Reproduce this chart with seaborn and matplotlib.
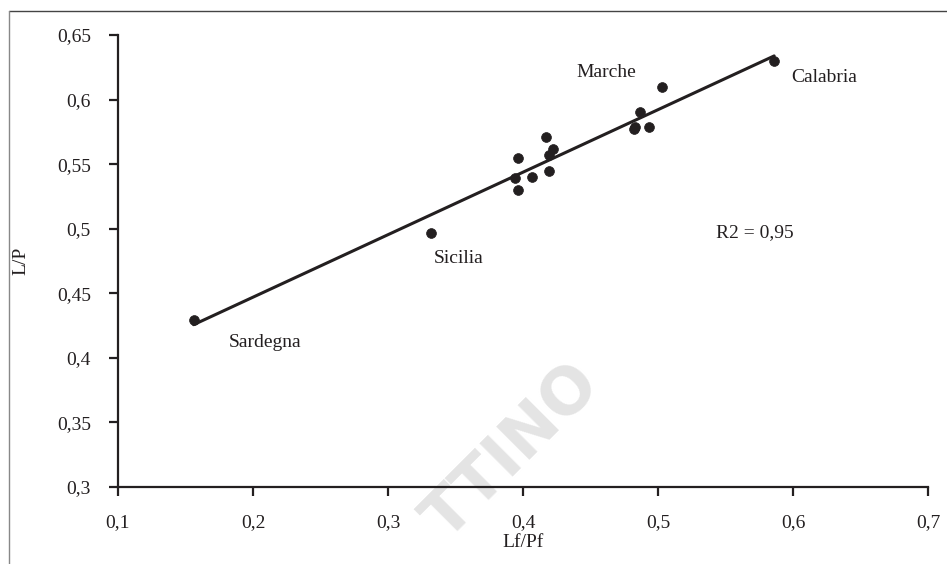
import matplotlib
matplotlib.use("Agg")
import matplotlib.pyplot as plt
from matplotlib.lines import Line2D
import seaborn as sns
import pandas as pd
import numpy as np

# ---- data ----
lf_pf = [0.156, 0.332, 0.394, 0.396, 0.396, 0.407, 0.417, 0.419, 0.419, 0.422,
         0.482, 0.483, 0.487, 0.493, 0.503, 0.586]
l_p = [0.429, 0.497, 0.539, 0.555, 0.530, 0.540, 0.571, 0.545, 0.557, 0.562,
       0.577, 0.579, 0.590, 0.579, 0.610, 0.630]

region_labels = ["Sardegna", "Sicilia", "Marche", "Calabria"]
label_x = [0.209, 0.352, 0.4615, 0.623]
label_y = [0.412, 0.477, 0.621, 0.617]

r2_text = "R2 = 0,95"
x_ticks = [0.1, 0.2, 0.3, 0.4, 0.5, 0.6, 0.7]
y_ticks = [0.3, 0.35, 0.4, 0.45, 0.5, 0.55, 0.6, 0.65]

df = pd.DataFrame({"Lf/Pf": lf_pf, "L/P": l_p})

sns.set_theme(style="white")
plt.rcParams["font.family"] = ["Liberation Serif", "DejaVu Serif"]
ink = "#231f20"

fig = plt.figure(figsize=(9.47, 5.64), dpi=100)
ax = fig.add_axes([0.1246, 0.1365, 0.980 - 0.1246, 0.938 - 0.1365])
ax.set_facecolor("none")

sns.regplot(data=df, x="Lf/Pf", y="L/P", ax=ax, ci=None, truncate=True,
            scatter_kws=dict(s=50, color=ink, edgecolor=ink, linewidths=0.5,
                             alpha=1.0, zorder=3),
            line_kws=dict(color=ink, lw=2.2, zorder=2))

ax.set_xlim(0.1, 0.7)
ax.set_ylim(0.3, 0.65)
ax.set_xticks(x_ticks)
ax.set_yticks(y_ticks)
fmt = lambda v: ("%g" % v).replace(".", ",")
ax.set_xticklabels([fmt(v) for v in x_ticks])
ax.set_yticklabels([fmt(v) for v in y_ticks])

for side in ["top", "right"]:
    ax.spines[side].set_visible(False)
for side in ["left", "bottom"]:
    ax.spines[side].set_color(ink)
    ax.spines[side].set_linewidth(1.6)

ax.tick_params(axis="both", which="major", direction="out", length=6.5, width=1.6,
               color=ink, labelcolor=ink, labelsize=14, pad=13,
               left=True, bottom=True)

ax.set_xlabel("Lf/Pf", fontsize=14, color=ink, labelpad=2)
ax.set_ylabel("L/P", fontsize=14, color=ink, labelpad=20)

for name, tx, ty in zip(region_labels, label_x, label_y):
    ax.text(tx, ty, name, fontsize=14, color=ink, ha="center", va="center")
ax.text(0.572, 0.497, r2_text, fontsize=14, color=ink, ha="center", va="center")

# watermark (light grey, behind everything)
ax.text(0.392, 0.327, "TTINO", fontsize=46, fontweight="bold",
        family="DejaVu Sans", color="#e4e4e4", rotation=45,
        ha="center", va="center", clip_on=False, zorder=0)

# page frame: top and left lines
fig.add_artist(Line2D([9 / 947, 1.0], [1 - 10.5 / 564, 1 - 10.5 / 564],
                      transform=fig.transFigure, color="#444444", lw=1.0))
fig.add_artist(Line2D([9 / 947, 9 / 947], [0.0, 1 - 10.5 / 564],
                      transform=fig.transFigure, color="#888888", lw=1.0))

fig.savefig("out.png", dpi=100)
